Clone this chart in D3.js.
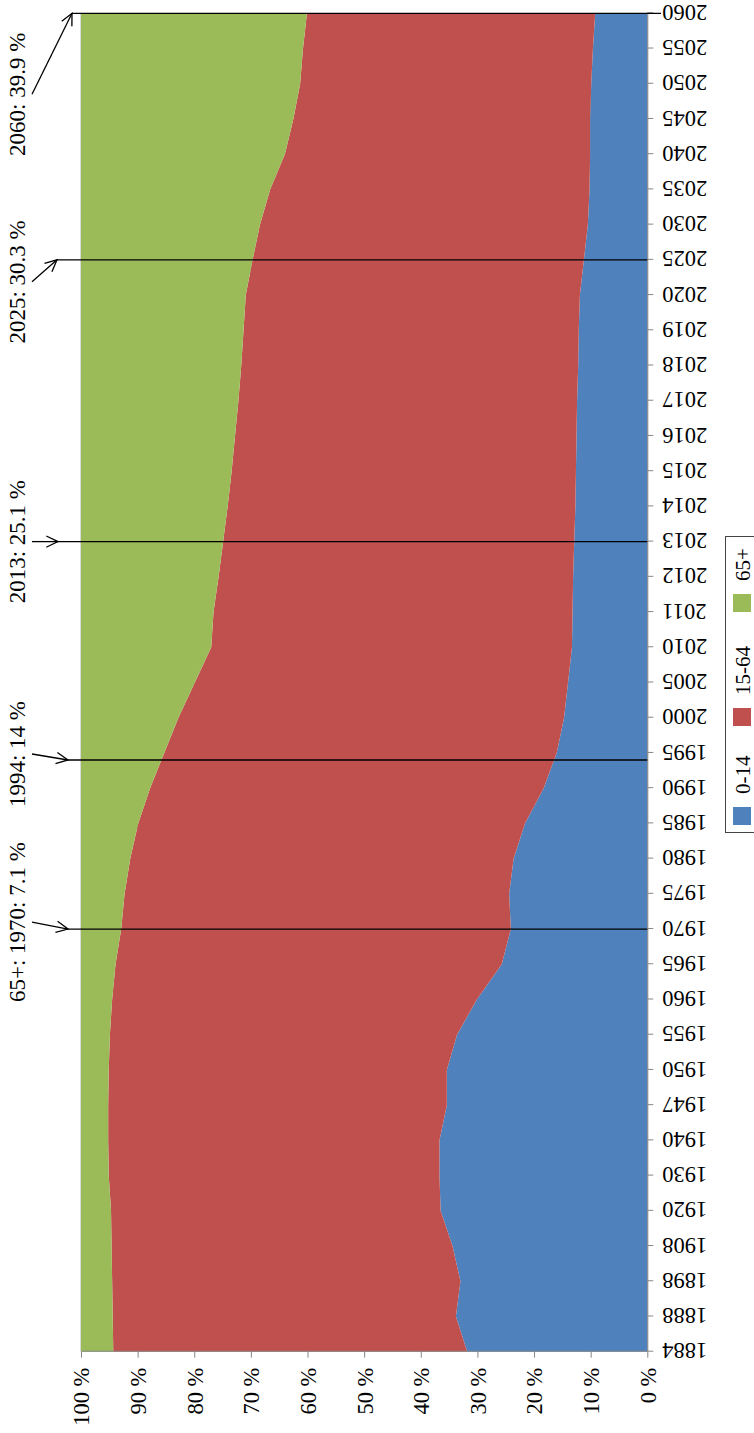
<!DOCTYPE html>
<html lang="en">
<head>
  <meta charset="UTF-8">
  <title>Age structure</title>
  <script src="https://cdnjs.cloudflare.com/ajax/libs/d3/7.8.5/d3.min.js"></script>
  <style>
    body { margin: 0; background: #fff; }
    svg text { font-family: "Liberation Serif", "Times New Roman", serif; fill: #000; }
  </style>
</head>
<body>
<div id="chart"></div>
<script>
var years = [1884, 1888, 1898, 1908, 1920, 1930, 1940, 1947, 1950, 1955,
  1960, 1965, 1970, 1975, 1980, 1985, 1990, 1995, 2000, 2005,
  2010, 2011, 2012, 2013, 2014, 2015, 2016, 2017, 2018, 2019,
  2020, 2025, 2030, 2035, 2040, 2045, 2050, 2055, 2060];

// shares in %
var young = [31.8, 33.8, 33.0, 34.4, 36.5, 36.7, 36.7, 35.4, 35.4, 33.6,
  30.1, 25.7, 24.1, 24.4, 23.6, 21.6, 18.3, 16.0, 14.7, 14.0,
  13.3, 13.2, 13.1, 12.9, 12.7, 12.6, 12.5, 12.4, 12.2, 12.1,
  11.9, 11.2, 10.5, 10.2, 10.1, 10.1, 9.9, 9.6, 9.2];
var working = [62.5, 60.6, 61.5, 60.2, 58.2, 58.4, 58.5, 59.8, 59.7, 61.3,
  64.4, 68.2, 68.8, 67.9, 67.7, 68.3, 69.5, 69.3, 68.1, 65.9,
  63.7, 63.4, 62.6, 62.0, 61.4, 60.8, 60.3, 59.8, 59.5, 59.2,
  59.0, 58.5, 57.9, 56.4, 53.9, 52.4, 51.4, 51.2, 50.9];
var old = [5.7, 5.6, 5.5, 5.4, 5.3, 4.9, 4.8, 4.8, 4.9, 5.1,
  5.5, 6.1, 7.1, 7.7, 8.7, 10.1, 12.2, 14.7, 17.2, 20.1,
  23.0, 23.4, 24.3, 25.1, 25.9, 26.6, 27.2, 27.8, 28.3, 28.7,
  29.1, 30.3, 31.6, 33.4, 36.0, 37.5, 38.7, 39.2, 39.9];

var seriesNames = ["0-14", "15-64", "65+"];
var percentTicks = [0, 10, 20, 30, 40, 50, 60, 70, 80, 90, 100];

var noteYears = [1970, 1994, 2013, 2025, 2060];
var noteLabels = ["65+: 1970: 7.1 %", "1994: 14 %", "2013: 25.1 %", "2025: 30.3 %", "2060: 39.9 %"];

// layout of the notes (shift of label from its line, arrow tip depth)
var noteShift = [7, 6, 0, -22, -81];
var noteTip = [68, 68, 58, 57, 72];

var colors = ["#4F81BD", "#C0504D", "#9BBB59"];
var axisGrey = "#868686";
var serif = "'Liberation Serif', 'Times New Roman', serif";

var svgWidth = 754;
var svgHeight = 1433;

// the chart is drawn landscape and turned a quarter turn
var W = svgHeight;
var margin = { left: 81.3, right: 13.3, top: 81, bottom: 106.7 };

var svg = d3.select("#chart").append("svg")
  .attr("width", svgWidth)
  .attr("height", svgHeight);

var g = svg.append("g")
  .attr("transform", "translate(0," + svgHeight + ") rotate(-90)");

var x = d3.scalePoint()
  .domain(years)
  .range([margin.left, W - margin.right]);

var y = d3.scaleLinear()
  .domain([0, 100])
  .range([svgWidth - margin.bottom, margin.top]);

function xYear(yr) {
  if (years.indexOf(yr) >= 0) return x(yr);
  var i = d3.bisectLeft(years, yr);
  var a = years[i - 1], b = years[i];
  return x(a) + (x(b) - x(a)) * (yr - a) / (b - a);
}

// gridlines (hidden by the areas except the top one)
g.append("g").selectAll("line")
  .data(percentTicks)
  .enter()
  .append("line")
  .attr("x1", x.range()[0])
  .attr("x2", x.range()[1])
  .attr("y1", d => y(d))
  .attr("y2", d => y(d))
  .attr("stroke", "#b3b3b3")
  .attr("stroke-width", 1);

var table = years.map(function(yr, i) {
  return { year: yr, "0-14": young[i], "15-64": working[i], "65+": old[i] };
});

var stacked = d3.stack().keys(seriesNames)(table);

var area = d3.area()
  .x(d => x(d.data.year))
  .y0(d => y(d[0]))
  .y1(d => y(d[1]));

g.append("g").selectAll("path")
  .data(stacked)
  .enter()
  .append("path")
  .attr("d", area)
  .attr("fill", (d, i) => colors[i]);

// year axis
var bottomAxis = d3.axisBottom(x).tickSizeInner(6).tickSizeOuter(0);
var xAxis = g.append("g")
  .attr("transform", "translate(0," + y(0) + ")")
  .call(bottomAxis)
  .attr("font-family", serif)
  .attr("font-size", 22.5);
xAxis.select(".domain").attr("stroke", axisGrey);
xAxis.selectAll(".tick line").attr("stroke", axisGrey);
xAxis.selectAll(".tick text")
  .attr("transform", "rotate(-90)")
  .attr("x", -15)
  .attr("y", 0)
  .attr("dy", "0.35em")
  .attr("text-anchor", "end")
  .attr("fill", "#000");

// percent axis
var leftAxis = d3.axisLeft(y)
  .tickValues(percentTicks)
  .tickFormat(d => d + " %")
  .tickSizeInner(6)
  .tickSizeOuter(0)
  .tickPadding(10);
var yAxis = g.append("g")
  .attr("transform", "translate(" + x.range()[0] + ",0)")
  .call(leftAxis)
  .attr("font-family", serif)
  .attr("font-size", 22.5);
yAxis.select(".domain").attr("stroke", axisGrey);
yAxis.selectAll(".tick line").attr("stroke", axisGrey);
yAxis.selectAll(".tick text")
  .attr("dy", "0.35em")
  .attr("fill", "#000");

// notes with arrows
var notes = g.append("g");
noteYears.forEach(function(yr, i) {
  var lx = xYear(yr);
  var cx = lx + noteShift[i];
  var tipY = noteTip[i];
  var endY = (yr === years[years.length - 1]) ? 661 : y(0);

  notes.append("text")
    .attr("x", cx)
    .attr("y", 25)
    .attr("text-anchor", "middle")
    .attr("font-size", 23)
    .text(noteLabels[i]);

  notes.append("line")
    .attr("x1", lx).attr("y1", tipY)
    .attr("x2", lx).attr("y2", endY)
    .attr("stroke", "#000")
    .attr("stroke-width", 1.3);

  // arrow from the label to the line
  var sx = cx, sy = 32;
  notes.append("line")
    .attr("x1", sx).attr("y1", sy)
    .attr("x2", lx).attr("y2", tipY)
    .attr("stroke", "#000")
    .attr("stroke-width", 1.3);

  var ang = Math.atan2(tipY - sy, lx - sx);
  var len = 13, spread = 0.45;
  var p1 = [lx - len * Math.cos(ang - spread), tipY - len * Math.sin(ang - spread)];
  var p2 = [lx - len * Math.cos(ang + spread), tipY - len * Math.sin(ang + spread)];
  notes.append("path")
    .attr("d", "M" + p1 + "L" + lx + "," + tipY + "L" + p2)
    .attr("fill", "none")
    .attr("stroke", "#000")
    .attr("stroke-width", 1.3);
});

// legend
var legendX = [608, 707, 821];
var legend = g.append("g");
legend.append("rect")
  .attr("x", 600.5)
  .attr("y", 725.5)
  .attr("width", 296)
  .attr("height", 60)
  .attr("fill", "#fff")
  .attr("stroke", "#444")
  .attr("stroke-width", 1);

seriesNames.forEach(function(name, i) {
  legend.append("rect")
    .attr("x", legendX[i])
    .attr("y", 733)
    .attr("width", 18)
    .attr("height", 18)
    .attr("fill", colors[i]);
  legend.append("text")
    .attr("x", legendX[i] + 31)
    .attr("y", 750)
    .attr("font-size", 21)
    .text(name);
});
</script>
</body>
</html>
